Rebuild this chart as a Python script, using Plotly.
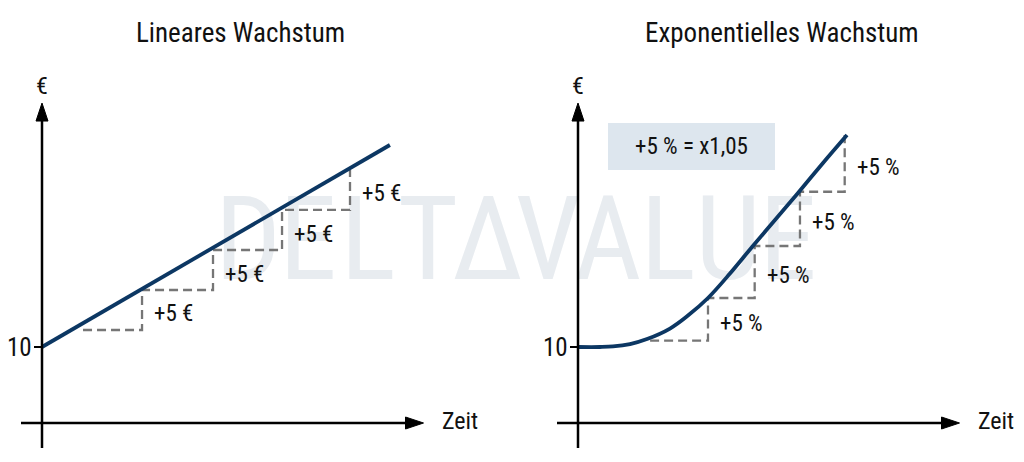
import plotly.graph_objects as go

# ---------------- data ----------------
lin_t = [0.0, 4.97]
lin_v = [10.0, 36.58]
lin_step_t = [0.586, 1.429, 2.443, 3.429, 4.40]
lin_step_v = [12.24, 17.50, 22.76, 28.03, 33.29]
lin_label = "+5 €"

exp_t = [0.0, 0.314, 0.5, 0.743, 0.986, 1.314, 1.571, 1.857, 2.171, 2.486, 2.814, 3.143, 3.50, 3.843]
exp_v = [10.0, 10.0, 10.07, 10.39, 11.05, 12.43, 14.14, 16.45, 19.67, 23.16, 26.71, 30.26, 34.21, 37.89]
exp_step_t = [1.03, 1.857, 2.524, 3.171, 3.81]
exp_step_v = [10.83, 16.45, 23.29, 30.43, 37.89]
exp_label = "+5 %"

titles = ["Lineares Wachstum", "Exponentielles Wachstum"]
y_tick_value = 10
y_tick_label = "10"
y_axis_label = "€"
x_axis_label = "Zeit"
box_text = "+5 % = x1,05"
watermark = list("DELTΔVALUE")

# ---------------- styles ----------------
FONT = "Roboto Condensed, Liberation Sans Narrow, DejaVu Sans Condensed, Roboto, sans-serif"
NAVY = "#0c3763"
GREY = "#767676"
PXT = 70.0   # px per time unit
PXV = 7.6    # px per value unit
W, H = 1024, 462

fig = go.Figure()

# watermark first (page-pixel overlay axes: x, y) so it sits beneath everything
wm_x = [248 + 60 * k for k in range(len(watermark))]
wm_y = [250] * len(watermark)
fig.add_trace(go.Scatter(x=wm_x, y=wm_y, text=watermark, mode="text", xaxis="x", yaxis="y",
                         textfont=dict(family=FONT, size=116, color="#e8ecf0"),
                         hoverinfo="skip", showlegend=False, cliponaxis=False))

def axes_for(i):
    return ("x2" if i == 0 else "x3"), ("y2" if i == 0 else "y3")

def staircase(ts, vs):
    xs, ys = [ts[0]], [vs[0]]
    for k in range(1, len(ts)):
        xs += [ts[k], ts[k]]
        ys += [vs[k - 1], vs[k]]
    return xs, ys

shapes = []
annotations = []

for i in range(2):
    xa, ya = axes_for(i)
    if i == 0:
        st, sv, lab = lin_step_t, lin_step_v, lin_label
    else:
        st, sv, lab = exp_step_t, exp_step_v, exp_label
    sx, sy = staircase(st, sv)
    fig.add_trace(go.Scatter(x=sx, y=sy, mode="lines", xaxis=xa, yaxis=ya,
                             line=dict(color=GREY, width=2.3, dash="9px,5px"),
                             hoverinfo="skip", showlegend=False))
    for k in range(1, len(st)):
        annotations.append(dict(x=st[k], y=(sv[k - 1] + sv[k]) / 2, xref=xa, yref=ya,
                                text=lab, showarrow=False, xanchor="left", yanchor="middle",
                                xshift=10, yshift=-4,
                                font=dict(family=FONT, size=23, color="#111")))

fig.add_trace(go.Scatter(x=lin_t, y=lin_v, mode="lines", xaxis="x2", yaxis="y2",
                         line=dict(color=NAVY, width=3.8), showlegend=False))
fig.add_trace(go.Scatter(x=exp_t, y=exp_v, mode="lines", xaxis="x3", yaxis="y3",
                         line=dict(color=NAVY, width=3.8, shape="spline", smoothing=1.0),
                         showlegend=False))

# axes with arrows
x_start, x_tip = -0.30, 5.45
y_start, y_tip = -3.29, 42.1
head_len, head_half = 18.0, 6.0
for i in range(2):
    xa, ya = axes_for(i)
    hl_t, hw_t = head_len / PXT, head_half / PXT
    hl_v, hw_v = head_len / PXV, head_half / PXV
    shapes.append(dict(type="line", xref=xa, yref=ya, x0=x_start, x1=x_tip - hl_t + 0.02,
                       y0=0, y1=0, line=dict(color="black", width=2.5)))
    shapes.append(dict(type="path", xref=xa, yref=ya, fillcolor="black",
                       line=dict(color="black", width=1),
                       path=f"M{x_tip},0 L{x_tip - hl_t},{hw_v} L{x_tip - hl_t},{-hw_v} Z"))
    shapes.append(dict(type="line", xref=xa, yref=ya, x0=0, x1=0,
                       y0=y_start, y1=y_tip - hl_v + 0.2, line=dict(color="black", width=2.5)))
    shapes.append(dict(type="path", xref=xa, yref=ya, fillcolor="black",
                       line=dict(color="black", width=1),
                       path=f"M0,{y_tip} L{hw_t},{y_tip - hl_v} L{-hw_t},{y_tip - hl_v} Z"))
    shapes.append(dict(type="line", xref=xa, yref=ya, x0=-8 / PXT, x1=0,
                       y0=y_tick_value, y1=y_tick_value, line=dict(color="black", width=2)))
    annotations.append(dict(x=0, y=y_tick_value, xref=xa, yref=ya, text=y_tick_label,
                            showarrow=False, xanchor="right", yanchor="middle", xshift=-8,
                            font=dict(family=FONT, size=25, color="#111")))
    annotations.append(dict(x=0, y=y_tip, xref=xa, yref=ya, text=y_axis_label,
                            showarrow=False, xanchor="center", yanchor="bottom", yshift=1,
                            font=dict(family=FONT, size=24, color="#111")))
    annotations.append(dict(x=x_tip, y=0, xref=xa, yref=ya, text=x_axis_label,
                            showarrow=False, xanchor="left", yanchor="middle", xshift=16, yshift=2,
                            font=dict(family=FONT, size=24, color="#111")))

# info box on right chart
shapes.append(dict(type="rect", xref="x3", yref="y3", x0=0.429, x1=2.814, y0=33.29, y1=39.47,
                   fillcolor="#dde6ee", line=dict(width=0), layer="below"))
annotations.append(dict(x=(0.429 + 2.814) / 2, y=(33.29 + 39.47) / 2, xref="x3", yref="y3",
                        text=box_text, showarrow=False, xanchor="center", yanchor="middle",
                        font=dict(family=FONT, size=23, color="#111")))

# titles
title_x = [240 / W, 782 / W]
for tx, tt in zip(title_x, titles):
    annotations.append(dict(x=tx, y=1 - 33 / H, xref="paper", yref="paper", text=tt,
                            showarrow=False, xanchor="center", yanchor="middle",
                            font=dict(family=FONT, size=27, color="#111")))

hidden = dict(visible=False, fixedrange=True, showgrid=False, zeroline=False)
fig.update_layout(
    width=W, height=H,
    margin=dict(l=0, r=0, t=0, b=0),
    paper_bgcolor="white", plot_bgcolor="rgba(0,0,0,0)",
    shapes=shapes, annotations=annotations,
    xaxis=dict(domain=[0, 1], range=[0, W], **hidden),
    yaxis=dict(domain=[0, 1], range=[H, 0], **hidden),
    xaxis2=dict(domain=[0, 0.5], range=[-42 / PXT, (512 - 42) / PXT], anchor="y2", **hidden),
    yaxis2=dict(domain=[0, 1], range=[-39 / PXV, 423 / PXV], anchor="x2", **hidden),
    xaxis3=dict(domain=[0.5, 1], range=[(512 - 578) / PXT, (1024 - 578) / PXT], anchor="y3", **hidden),
    yaxis3=dict(domain=[0, 1], range=[-39 / PXV, 423 / PXV], anchor="x3", **hidden),
    showlegend=False,
)

fig.write_html("out.html", post_script="document.body.style.margin='0px';",
               config={"displayModeBar": False})
